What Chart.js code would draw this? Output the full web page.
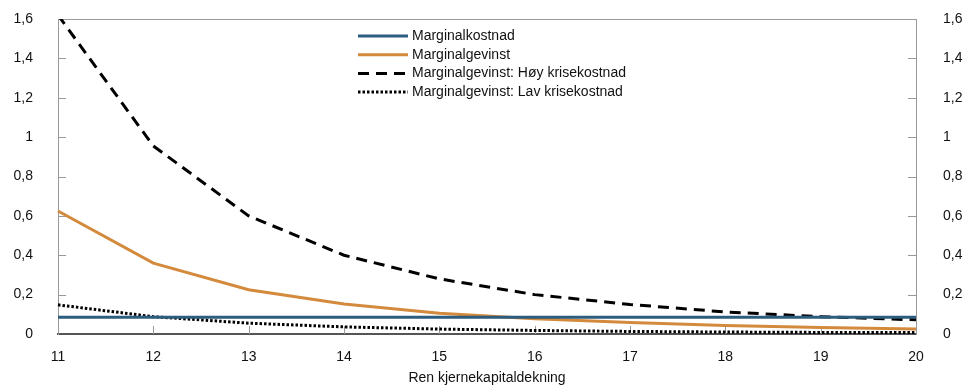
<!DOCTYPE html>
<html>
<head>
<meta charset="utf-8">
<script src="https://cdn.jsdelivr.net/npm/chart.js@4.4.1/dist/chart.umd.min.js"></script>
<style>
  html, body { margin: 0; padding: 0; background: #fff; }
  #wrap { width: 965px; height: 385px; }
</style>
</head>
<body>
<div id="wrap"><canvas id="chart" width="965" height="385"></canvas></div>
<script>
const categories = ["11", "12", "13", "14", "15", "16", "17", "18", "19", "20"];
const marginalkostnad = [0.085, 0.085, 0.085, 0.085, 0.085, 0.085, 0.085, 0.085, 0.085, 0.085];
const marginalgevinst = [0.625, 0.36, 0.225, 0.152, 0.105, 0.077, 0.058, 0.043, 0.033, 0.025];
const hoyKrisekostnad = [1.62, 0.955, 0.6, 0.4, 0.28, 0.2, 0.15, 0.112, 0.088, 0.072];
const lavKrisekostnad = [0.148, 0.088, 0.055, 0.036, 0.025, 0.018, 0.013, 0.01, 0.008, 0.007];
const yTicks = [0, 0.2, 0.4, 0.6, 0.8, 1, 1.2, 1.4, 1.6];

const FONT = "'Liberation Sans', Arial, Helvetica, sans-serif";
const BLUE = '#2d5d7e';
const ORANGE = '#d48a3c';

Chart.defaults.font.family = FONT;
Chart.defaults.font.size = 14;
Chart.defaults.color = '#111';

function fmt(v) {
    return String(Math.round(v * 10) / 10).replace('.', ',');
}

// egen forklaring inne i plottet + innovervendte tickmerker
const extras = {
    id: 'extras',
    beforeDatasetsDraw(chart) {
        const ctx = chart.ctx;
        const a = chart.chartArea;
        const x = chart.scales.x, yl = chart.scales.y, yr = chart.scales.y2;
        ctx.save();
        ctx.strokeStyle = '#999';
        ctx.lineWidth = 1;
        ctx.beginPath();
        ctx.moveTo(a.left, a.top + 0.5);
        ctx.lineTo(a.right, a.top + 0.5);
        categories.forEach((c, i) => {
            if (i === 0 || i === categories.length - 1) return;
            const px = Math.round(x.getPixelForValue(i)) + 0.5;
            ctx.moveTo(px, a.bottom);
            ctx.lineTo(px, a.bottom - 8);
        });
        yTicks.forEach(v => {
            if (v === 0 || v === 1.6) return;
            const py = Math.round(yl.getPixelForValue(v)) + 0.5;
            ctx.moveTo(a.left, py);
            ctx.lineTo(a.left + 8, py);
            const pr = Math.round(yr.getPixelForValue(v)) + 0.5;
            ctx.moveTo(a.right, pr);
            ctx.lineTo(a.right - 8, pr);
        });
        ctx.stroke();
        ctx.restore();
    },
    afterDraw(chart) {
        const ctx = chart.ctx;
        const x0 = 358, x1 = 408, tx = 412;
        let y = 36;
        ctx.save();
        ctx.font = '14px ' + FONT;
        ctx.textBaseline = 'middle';
        ctx.fillStyle = '#111';
        chart.data.datasets.forEach(ds => {
            ctx.strokeStyle = ds.borderColor;
            ctx.lineWidth = ds.borderWidth;
            ctx.setLineDash(ds.borderDash || []);
            ctx.beginPath();
            ctx.moveTo(x0, y);
            ctx.lineTo(x1, y);
            ctx.stroke();
            ctx.fillText(ds.label, tx, y);
            y += 18.7;
        });
        ctx.restore();
    }
};

function fixY(width) {
    return function (s) {
        s.width = width;
        s.paddingTop = 0;
        s.paddingBottom = 0;
    };
}

new Chart(document.getElementById('chart'), {
    type: 'line',
    data: {
        labels: categories,
        datasets: [{
            label: 'Marginalkostnad',
            data: marginalkostnad,
            borderColor: BLUE,
            borderWidth: 3,
            yAxisID: 'y'
        }, {
            label: 'Marginalgevinst',
            data: marginalgevinst,
            borderColor: ORANGE,
            borderWidth: 3,
            yAxisID: 'y'
        }, {
            label: 'Marginalgevinst: Høy krisekostnad',
            data: hoyKrisekostnad,
            borderColor: '#000',
            borderWidth: 3,
            borderDash: [11, 7],
            yAxisID: 'y'
        }, {
            label: 'Marginalgevinst: Lav krisekostnad',
            data: lavKrisekostnad,
            borderColor: '#000',
            borderWidth: 3,
            borderDash: [2.5, 2],
            yAxisID: 'y'
        }]
    },
    options: {
        responsive: false,
        animation: false,
        layout: { padding: { top: 19, left: 0, right: 0, bottom: 0 } },
        elements: {
            point: { radius: 0 },
            line: { tension: 0, borderCapStyle: 'butt' }
        },
        plugins: {
            legend: { display: false },
            tooltip: { enabled: false }
        },
        scales: {
            x: {
                offset: false,
                grid: { display: false, drawTicks: false },
                border: { display: true, color: '#555', width: 2 },
                ticks: { padding: 15, maxRotation: 0, autoSkip: false },
                title: {
                    display: true,
                    text: 'Ren kjernekapitaldekning',
                    padding: { top: 0, bottom: -1.5 }
                },
                afterFit(s) { s.height = 51; }
            },
            y: {
                position: 'left',
                min: 0,
                max: 1.6,
                afterBuildTicks(s) { s.ticks = yTicks.map(v => ({ value: v })); },
                grid: { display: false, drawTicks: false },
                border: { display: true, color: '#999', width: 1 },
                ticks: { padding: 25, callback: fmt },
                afterFit: fixY(58)
            },
            y2: {
                position: 'right',
                min: 0,
                max: 1.6,
                afterBuildTicks(s) { s.ticks = yTicks.map(v => ({ value: v })); },
                grid: { display: false, drawTicks: false },
                border: { display: true, color: '#999', width: 1 },
                ticks: { padding: 27, callback: fmt },
                afterFit: fixY(49)
            }
        }
    },
    plugins: [extras]
});
</script>
</body>
</html>
